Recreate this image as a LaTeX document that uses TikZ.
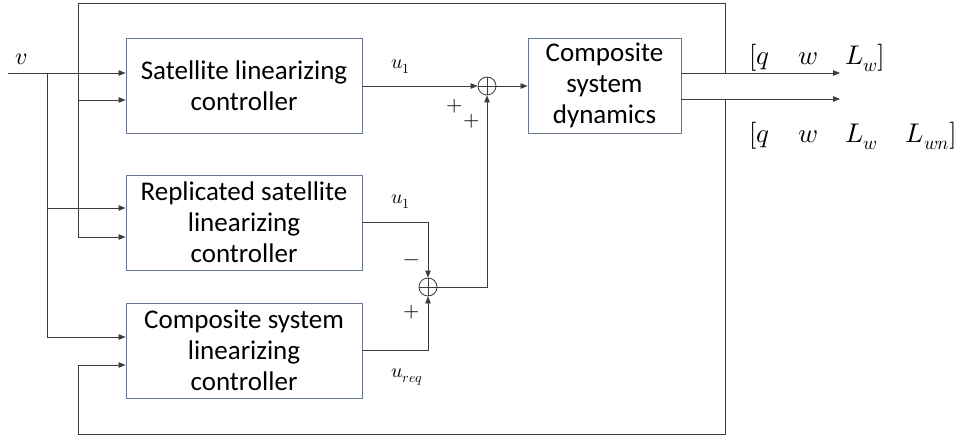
\documentclass[tikz,border=0pt]{standalone}
\usepackage{fontspec}
\usepackage{unicode-math}
\setmathfont{Latin Modern Math}
\setsansfont{Carlito}
\usetikzlibrary{arrows.meta,calc}
\definecolor{boxc}{RGB}{105,120,145}
\definecolor{linec}{RGB}{60,60,60}
\begin{document}
\begin{tikzpicture}[x=1pt,y=-1pt,
  blk/.style={draw=boxc,line width=0.9pt,fill=white,minimum width=236pt,minimum height=95pt,
    align=center,font=\sffamily\fontsize{27}{31}\selectfont,inner sep=0pt},
  sumc/.style={draw=linec,circle,minimum size=18pt,inner sep=0pt,line width=0.8pt},
  ln/.style={draw=linec,line width=0.8pt},
  arr/.style={ln,-{Triangle[length=7pt,width=5.5pt]}},
  mlab/.style={font=\fontsize{20}{22}\selectfont,inner sep=0pt},
  sgn/.style={font=\fontsize{21}{23}\selectfont,inner sep=0pt},
  olab/.style={font=\fontsize{27}{30}\selectfont,inner sep=0pt,anchor=west}]
\useasboundingbox (0,0) rectangle (968,438);

% blocks
\node[blk] (b1) at (244,86) {Satellite linearizing\\controller};
\node[blk] (b2) at (244,222.5) {Replicated satellite\\linearizing\\controller};
\node[blk] (b3) at (244,350.5) {Composite system\\linearizing\\controller};
\node[blk,minimum width=153pt] (b4) at (604.5,85.5) {Composite\\system\\dynamics};
\node[sumc] (s1) at (487,86) {};
\node[sumc] (s2) at (428,287) {};
\draw[linec,line width=0.8pt] (s1.north)--(s1.south) (s1.west)--(s1.east);
\draw[linec,line width=0.8pt] (s2.north)--(s2.south) (s2.west)--(s2.east);

% coordinates
\coordinate (vin) at (8,73);
\coordinate (vj) at (47,73);
\coordinate (o1) at (840,73);
\coordinate (o2) at (840,99);
\coordinate (f1) at (725,73);
\coordinate (f2) at (725,99);
\coordinate (ftr) at (725,3);
\coordinate (ftl) at (78,3);
\coordinate (fbr) at (725,434);
\coordinate (fbl) at (78,434);
\coordinate (c2) at (428,222);
\coordinate (c3) at (428,350);
\coordinate (c4) at (487,287);

% input v
\draw[arr] (vin) -- (vin -| b1.west);
\draw[ln] (vj) -- (47,337);
\draw[arr] (47,208) -- (47,208 -| b2.west);
\draw[arr] (47,337) -- (47,337 -| b3.west);

% feedback top
\draw[ln] (f1) -- (ftr) -- (ftl) -- (78,237);
\draw[arr] (78,100) -- (78,100 -| b1.west);
\draw[arr] (78,237) -- (78,237 -| b2.west);
% feedback bottom
\draw[arr] (f2) -- (fbr) -- (fbl) -- (78,365) -- (78,365 -| b3.west);

% outputs
\draw[arr] (b4.east |- o1) -- (o1);
\draw[arr] (b4.east |- o2) -- (o2);

% sums
\draw[arr] (b1.east |- s1) -- (s1.west);
\draw[arr] (s1.east) -- (b4.west |- s1);
\draw[arr] (b2.east |- c2) -- (c2) -- (s2.north);
\draw[arr] (b3.east |- c3) -- (c3) -- (s2.south);
\draw[arr] (s2.east) -- (c4) -- (s1.south);

% labels
\node[mlab,font=\fontsize{24}{26}\selectfont] (lv) at (21,59) {$v$};
\node[mlab] (lu1) at (401,67) {$u_1$};
\node[mlab] (lu2) at (401,202) {$u_1$};
\node[mlab] (lu3) at (407,377) {$u_{req}$};
\node[sgn] (p1) at (455,106) {$+$};
\node[sgn] (p2) at (472,121) {$+$};
\node[sgn] (m1) at (412,263) {$-$};
\node[sgn] (p3) at (412,312) {$+$};
\node[olab] (t1) at (749,58) {$[q\hspace{29pt}w\hspace{27pt}L_w]$};
\node[olab] (t2) at (749,136) {$[q\hspace{29pt}w\hspace{27pt}L_w\hspace{28pt}L_{wn}]$};
\end{tikzpicture}
\end{document}
